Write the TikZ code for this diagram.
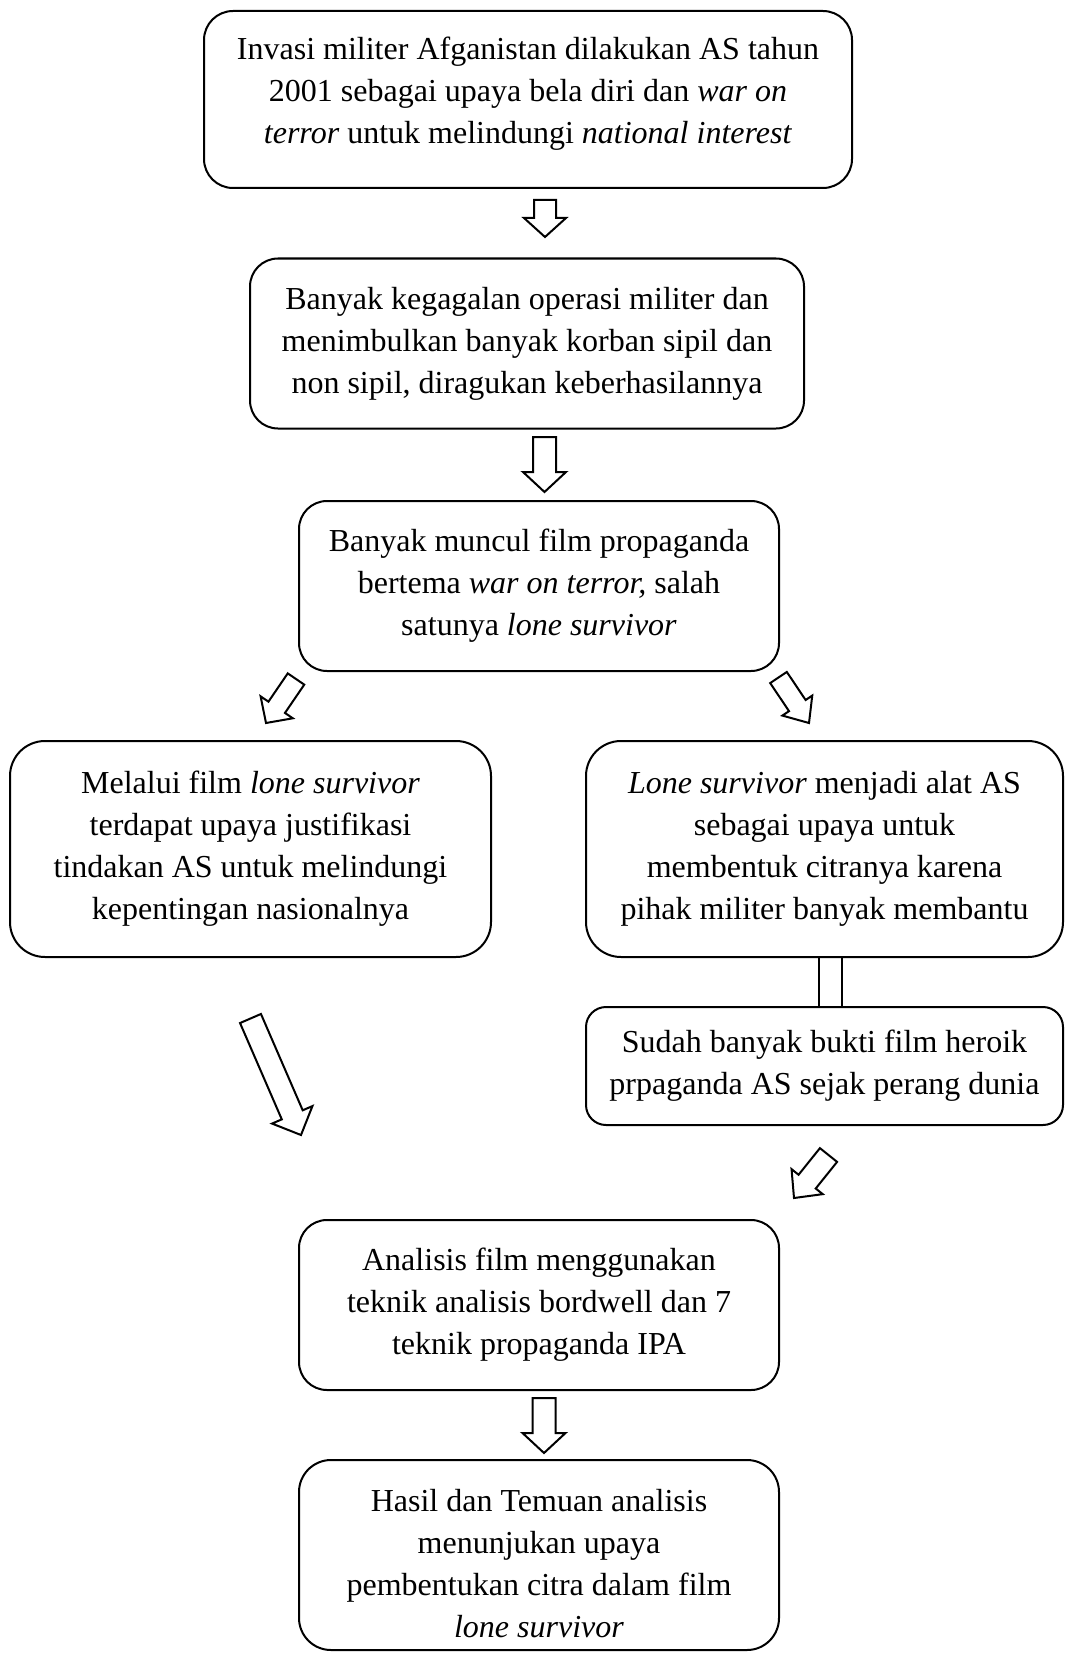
\documentclass[tikz,border=0pt]{standalone}
\usepackage{fontspec}
\setmainfont{Liberation Serif}
\usetikzlibrary{calc}
\tikzset{
  box/.style={draw, line width=2pt, rounded corners=#1, align=center, inner sep=0pt,
    font=\fontsize{32}{42}\selectfont},
  box/.default=28pt,
  blk/.style={draw, line width=2pt, fill=white, line join=miter},
  link/.style={line width=2pt},
}
% #1 tail coordinate, #2 tip coordinate, #3 half shaft width, #4 half head width, #5 head length
\newcommand\blkarrow[5]{%
  \coordinate (ba-H) at ($(#2)!#5!(#1)$);
  \draw[blk] ($(#1)!#3!90:(#2)$) -- ($(ba-H)!#3!-90:(#1)$) -- ($(ba-H)!#4!-90:(#1)$)
    -- (#2) -- ($(ba-H)!#4!90:(#1)$) -- ($(ba-H)!#3!90:(#1)$) -- ($(#1)!#3!-90:(#2)$) -- cycle;}
\begin{document}
\begin{tikzpicture}[x=1pt,y=-1pt]
\useasboundingbox (0,0) rectangle (1065,1653);
\fill[white] (0,0) rectangle (1065,1653);

\node[box=29pt, minimum width=648pt, minimum height=177pt] (b1) at (528,99.5)
  {Invasi militer Afganistan dilakukan AS tahun\\
   2001 sebagai upaya bela diri dan \textit{war on}\\
   \textit{terror} untuk melindungi \textit{national interest}\rule[-19pt]{0pt}{0pt}};
\node[box=28pt, minimum width=554pt, minimum height=170pt] (b2) at (527,343.5)
  {Banyak kegagalan operasi militer dan\\
   menimbulkan banyak korban sipil dan\\
   non sipil, diragukan keberhasilannya};
\node[box=28pt, minimum width=480pt, minimum height=170pt] (b3) at (539,586)
  {Banyak muncul film propaganda\\
   bertema \textit{war on terror,} salah\\
   satunya \textit{lone survivor}};
\node[box=35pt, minimum width=481pt, minimum height=216pt] (bl) at (250.5,849)
  {Melalui film \textit{lone survivor}\\
   terdapat upaya justifikasi\\
   tindakan AS untuk melindungi\\
   kepentingan nasionalnya};
\node[box=35pt, minimum width=477pt, minimum height=216pt] (br) at (824.5,849)
  {\textit{Lone survivor} menjadi alat AS\\
   sebagai upaya untuk\\
   membentuk citranya karena\\
   pihak militer banyak membantu};
\node[box=20pt, minimum width=477pt, minimum height=118pt] (bs) at (824.5,1066)
  {Sudah banyak bukti film heroik\\
   prpaganda AS sejak perang dunia};
\node[box=28pt, minimum width=480pt, minimum height=170pt] (ba) at (539,1305)
  {Analisis film menggunakan\\
   teknik analisis bordwell dan 7\\
   teknik propaganda IPA};
\node[box=32pt, minimum width=480pt, minimum height=190pt] (bh) at (539,1555)
  {\rule{0pt}{40pt}Hasil dan Temuan analisis\\
   menunjukan upaya\\
   pembentukan citra dalam film\\
   \textit{lone survivor}};

% connector between the two right boxes
\draw[link] ($(br.south)+(-5.5,0)$) -- ($(bs.north)+(-5.5,0)$);
\draw[link] ($(br.south)+(17.5,0)$) -- ($(bs.north)+(17.5,0)$);

% block arrows
\coordinate (a1t) at (545,200);   \coordinate (a1h) at (545,237);
\coordinate (a2t) at (544.5,437); \coordinate (a2h) at (544.5,492);
\coordinate (a3t) at (296,679);   \coordinate (a3h) at (266,723);
\coordinate (a4t) at (778.5,677.5); \coordinate (a4h) at (809,723);
\coordinate (a5t) at (250.5,1018.5); \coordinate (a5h) at (301,1135);
\coordinate (a6t) at (828.5,1155); \coordinate (a6h) at (794,1198);
\coordinate (a7t) at (544,1398);  \coordinate (a7h) at (544,1453);
\blkarrow{a1t}{a1h}{11pt}{21pt}{19pt}
\blkarrow{a2t}{a2h}{11.5pt}{21.5pt}{20pt}
\blkarrow{a3t}{a3h}{10pt}{19.5pt}{19pt}
\blkarrow{a4t}{a4h}{10pt}{18pt}{21pt}
\blkarrow{a5t}{a5h}{11.4pt}{22pt}{22pt}
\blkarrow{a6t}{a6h}{11pt}{20pt}{21pt}
\blkarrow{a7t}{a7h}{11.5pt}{21.5pt}{20pt}
\end{tikzpicture}
\end{document}
